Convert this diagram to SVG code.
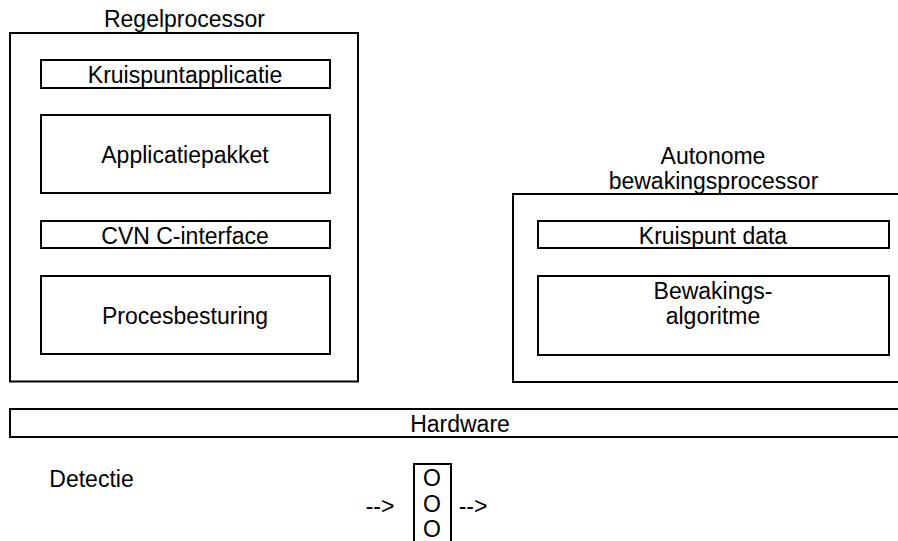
<svg xmlns="http://www.w3.org/2000/svg" width="898" height="541" viewBox="0 0 898 541">
<style>
rect{fill:none;stroke:#000;stroke-width:2}
text{font-family:"Liberation Sans",Arial,sans-serif;font-size:23px;fill:#000;text-anchor:middle}
</style>
<rect x="0" y="0" width="898" height="541" style="fill:#fff;stroke:none"/>
<g id="regelprocessor"><rect x="10" y="33" width="348" height="348.500"/><text x="184.500" y="26.500">Regelprocessor</text></g>
<g id="kruispuntapplicatie"><rect x="41" y="60" width="289" height="28"/><text x="185" y="83">Kruispuntapplicatie</text></g>
<g id="applicatiepakket"><rect x="41" y="115" width="289" height="78"/><text x="185" y="163">Applicatiepakket</text></g>
<g id="cvn-interface"><rect x="41" y="221" width="289" height="27"/><text x="185" y="244">CVN C-interface</text></g>
<g id="procesbesturing"><rect x="41" y="276" width="289" height="78"/><text x="185" y="324">Procesbesturing</text></g>
<g id="bewakingsprocessor"><rect x="513" y="194" width="400" height="188"/><text x="713" y="164">Autonome</text><text x="713.500" y="189">bewakingsprocessor</text></g>
<g id="kruispunt-data"><rect x="538" y="221" width="351" height="27"/><text x="713" y="244">Kruispunt data</text></g>
<g id="bewakingsalgoritme"><rect x="538" y="276" width="351" height="79"/><text x="713" y="299">Bewakings-</text><text x="713" y="324">algoritme</text></g>
<g id="hardware"><rect x="10" y="409" width="900" height="28"/><text x="460" y="432">Hardware</text></g>
<g id="detectie"><text x="91.500" y="487">Detectie</text></g>
<g id="signaal"><rect x="414" y="464" width="37" height="90"/><text x="432" y="486">O</text><text x="432" y="512">O</text><text x="432" y="537">O</text></g>
<g id="connectors"><text x="380" y="514">--&gt;</text><text x="473" y="514">--&gt;</text></g>
</svg>
